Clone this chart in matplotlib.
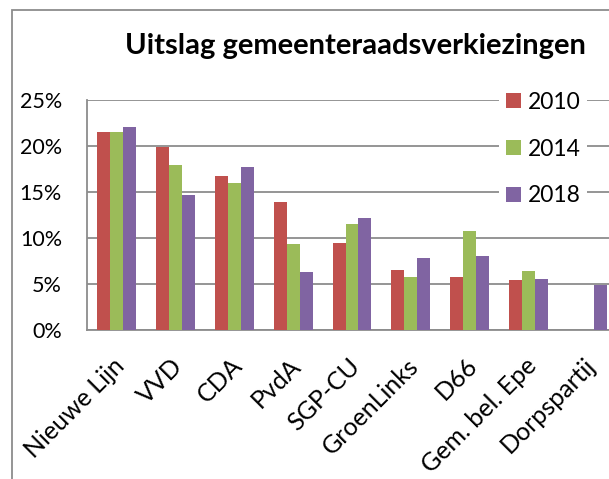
import matplotlib
matplotlib.use("Agg")
import matplotlib.pyplot as plt
from matplotlib.patches import Rectangle
from matplotlib.ticker import PercentFormatter
from matplotlib.transforms import ScaledTranslation
import numpy as np

categories = ["Nieuwe Lijn", "VVD", "CDA", "PvdA", "SGP-CU", "GroenLinks",
              "D66", "Gem. bel. Epe", "Dorpspartij"]
v2010 = [21.5, 19.9, 16.7, 13.9, 9.5, 6.5, 5.8, 5.4, np.nan]
v2014 = [21.5, 17.9, 16.0, 9.4, 11.5, 5.8, 10.8, 6.4, np.nan]
v2018 = [22.1, 14.7, 17.7, 6.3, 12.2, 7.8, 8.0, 5.5, 4.9]
series_labels = ["2010", "2014", "2018"]
colors = ["#C0504D", "#9BBB59", "#8064A2"]
title = "Uitslag gemeenteraadsverkiezingen"

plt.rcParams['font.family'] = ['Lato', 'DejaVu Sans']

W, H = 609, 479
fig = plt.figure(figsize=(W / 100, H / 100), dpi=100)

# outer chart border (cropped on right and bottom)
fig.patches.append(Rectangle((12 / W, -0.1), 1.2, (H - 10) / H + 0.1,
                             transform=fig.transFigure, fill=False,
                             edgecolor="#8C8C8C", linewidth=1.3))

ax = fig.add_axes([87 / W, (H - 330) / H, 530 / W, 230 / H])
x = np.arange(len(categories))
bw = 0.22
for i, (vals, lab, c) in enumerate(zip([v2010, v2014, v2018], series_labels, colors)):
    ax.bar(x + (i - 1) * bw, vals, width=bw, color=c, label=lab, zorder=3)

ax.set_xlim(-0.5, len(categories) - 0.5)
ax.set_ylim(0, 25)
ax.set_yticks(np.arange(0, 26, 5))
ax.yaxis.set_major_formatter(PercentFormatter(decimals=0))
ax.grid(axis='y', color="#8C8C8C", linewidth=1.3, zorder=0)
ax.set_axisbelow(True)
for s in ["top", "right"]:
    ax.spines[s].set_visible(False)
for s in ["left", "bottom"]:
    ax.spines[s].set_color("#8C8C8C")
    ax.spines[s].set_linewidth(1.3)
ax.tick_params(axis='y', length=0, labelsize=15.5, pad=18)
ax.tick_params(axis='x', length=0, labelsize=18, pad=0)
ax.set_xticks(x)
ax.set_xticklabels(categories, rotation=45, ha='right', va='center',
                   rotation_mode='anchor')
for t in ax.get_xticklabels():
    t.set_transform(t.get_transform() + ScaledTranslation(4 / 100, -32 / 100, fig.dpi_scale_trans))

fig.text(355 / W, 1 - 54 / H, title, ha='center', va='baseline',
         fontsize=21, fontweight='bold')

leg = fig.legend(loc='upper left', bbox_to_anchor=(499 / W, 1 - 85 / H),
                 frameon=True, fontsize=16.5, handlelength=0.65, handleheight=0.65,
                 handletextpad=0.3, labelspacing=1.12, borderpad=0.3,
                 borderaxespad=0)
leg.get_frame().set_facecolor('white')
leg.get_frame().set_edgecolor('none')
leg.get_frame().set_alpha(1)

fig.savefig("out.png", dpi=100)
